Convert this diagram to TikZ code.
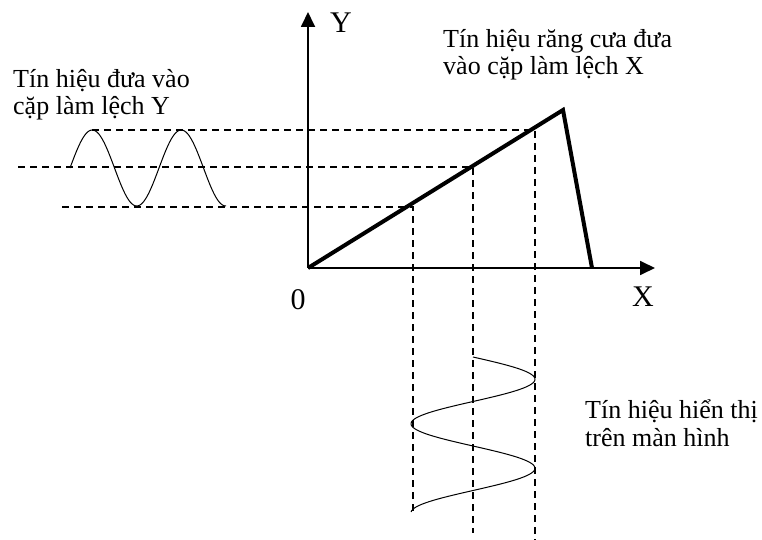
\documentclass[tikz,border=0pt]{standalone}
\usepackage{fontspec}
\setmainfont{Liberation Serif}
\usetikzlibrary{arrows.meta}

\begin{document}
\begin{tikzpicture}[x=1pt, y=-1pt, line cap=butt, line join=miter]
% Sawtooth deflection diagram, laid out on the 762 x 540 pixel grid
\def\capsz{\fontsize{26}{27.5}\selectfont}
\def\axsz{\fontsize{30}{32}\selectfont}
\providecommand{\waveAmp}{38}
\providecommand{\wavePeriod}{89}
\tikzset{
  axisline/.style={line width=1.8pt, -{Triangle[length=15pt,width=14pt]}},
  rampline/.style={line width=4pt},
  guideline/.style={line width=1.3pt, dash pattern=on 7pt off 5pt},
  waveline/.style={line width=1pt},
  caption/.style={anchor=base west, inner sep=0pt, font=\capsz, align=left},
  axislabel/.style={inner sep=0pt, font=\axsz},
}
\useasboundingbox (0,0) rectangle (762,540);
% Points of the axes and of the ramp
\coordinate (O) at (308,268);
\coordinate (ytip) at (308,12);
\coordinate (xtip) at (655,268);
\coordinate (peak) at (563,110);
\coordinate (drop) at (592,268);
% Points where the guides meet the ramp
\coordinate (p1) at (413,207);
\coordinate (p2) at (473,167);
\coordinate (p3) at (535,130);
% Free ends of the guides
\coordinate (l1) at (62,207);
\coordinate (l2) at (18,167);
\coordinate (l3) at (92,130);
\coordinate (b1) at (413,515);
\coordinate (b2) at (473,533);
\coordinate (b3) at (535,540);
% Axes
\draw[axisline] (O) -- (ytip);
\draw[axisline] (O) -- (xtip);
% Sawtooth
\draw[rampline] (O) -- (peak) -- (drop);
% Dashed guides
\begin{scope}[guideline]
  \draw (l1) -- (p1) -- (b1);
  \draw (l2) -- (p2) -- (b2);
  \draw (l3) -- (p3) -- (b3);
\end{scope}
% Input sine on the Y plates
\draw[waveline] plot[domain=70:226, samples=120, smooth]
  (\x, {168 - \waveAmp*sin((\x-70)/\wavePeriod*360)});
% Trace on the screen
\draw[waveline] plot[domain=357:512, samples=120, smooth]
  ({473 + 62*sin((\x-357)/\wavePeriod*360)}, \x);
% Labels (caption anchors sit on the last line)
\node[axislabel] (ylab) at (341,23) {Y};
\node[axislabel] (xlab) at (643,297) {X};
\node[axislabel] (olab) at (298,300) {0};
\node[caption] (ycap) at (13,115) {Tín hiệu đưa vào\\cặp làm lệch Y};
\node[caption] (xcap) at (443,75) {Tín hiệu răng cưa đưa\\vào cặp làm lệch X};
\node[caption] (scap) at (585,446) {Tín hiệu hiển thị\\trên màn hình};
\end{tikzpicture}
\end{document}
